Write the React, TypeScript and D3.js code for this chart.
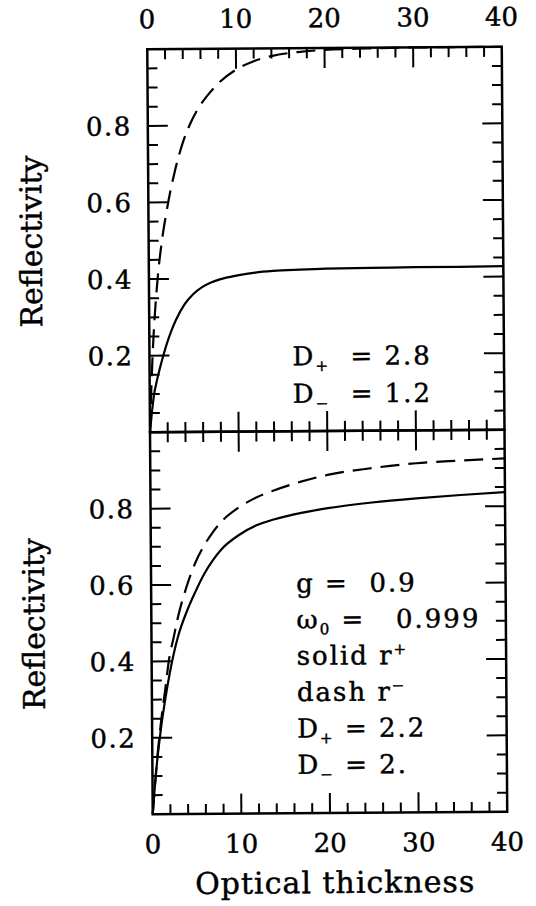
import * as d3 from "d3";

const WIDTH = 536;
const HEIGHT = 906;

// optical thickness sample points
const TAU = [0, 0.25, 0.5, 0.75, 1, 1.5, 2, 2.5, 3, 4, 5, 6, 7, 8, 10, 12, 14, 17, 20, 25, 30, 35, 40];

// upper panel (D+ = 2.8, D- = 1.2)
const TOP_R_PLUS = [0, 0.055, 0.1, 0.128, 0.152, 0.195, 0.233, 0.265, 0.292, 0.333, 0.36, 0.378, 0.39, 0.398, 0.408, 0.415, 0.419, 0.422, 0.424, 0.425, 0.426, 0.426, 0.427];
const TOP_R_MINUS = [0, 0.15, 0.26, 0.34, 0.405, 0.5, 0.57, 0.63, 0.68, 0.76, 0.815, 0.855, 0.885, 0.91, 0.945, 0.967, 0.98, 0.99, 0.995, 0.998, 1.0, 1.0, 1.0];

// lower panel (g = 0.9, w0 = 0.999, D+ = 2.2, D- = 2.)
const BOTTOM_R_PLUS = [0, 0.07, 0.13, 0.18, 0.225, 0.3, 0.365, 0.42, 0.465, 0.53, 0.582, 0.628, 0.664, 0.693, 0.73, 0.755, 0.77, 0.786, 0.798, 0.812, 0.822, 0.83, 0.837];
const BOTTOM_R_MINUS = [0, 0.07, 0.135, 0.19, 0.24, 0.325, 0.41, 0.462, 0.515, 0.595, 0.657, 0.702, 0.737, 0.765, 0.802, 0.828, 0.846, 0.868, 0.885, 0.902, 0.914, 0.92, 0.925];

const X_TICK_LABELS = [0, 10, 20, 30, 40];
const Y_TICK_LABELS = [0.2, 0.4, 0.6, 0.8];

// annotation lines: [main, subscript, superscript, rest]
const TOP_NOTES = [
  ["D", "+", "", "  = 2.8"],
  ["D", "\u2212", "", "  = 1.2"],
];
const BOTTOM_NOTES = [
  ["g", "", "", " =  0.9"],
  ["\u03c9", "0", "", " =   0.999"],
  ["solid r", "", "+", ""],
  ["dash r", "", "\u2212", ""],
  ["D", "+", "", " = 2.2"],
  ["D", "\u2212", "", " = 2."],
];

const FONT = "'DejaVu Serif', serif";
// scanned type is a little heavier than DejaVu regular
const INK = { stroke: "#000", strokeWidth: 0.45 };

function Note({ x, y, parts }) {
  const [main, sub, sup, rest] = parts;
  return (
    <text x={x} y={y} fontFamily={FONT} fontSize={26} letterSpacing={2} {...INK} style={{ whiteSpace: "pre" }}>
      <tspan>{main}</tspan>
      {sub && <tspan dy={6} fontSize={15}>{sub}</tspan>}
      {sup && <tspan dy={-10} fontSize={15}>{sup}</tspan>}
      {rest && <tspan dy={sub ? -6 : 0}>{rest}</tspan>}
    </text>
  );
}

export default function App() {
  const left = 150;
  const right = 504.5;
  const x = d3.scaleLinear().domain([0, 40]).range([left, right]);

  const panels = [
    { key: "top", top: 48, bottom: 431, plus: TOP_R_PLUS, minus: TOP_R_MINUS, notes: TOP_NOTES, nx: 293, ny: 365, nh: 37.5 },
    { key: "bottom", top: 431, bottom: 813, plus: BOTTOM_R_PLUS, minus: BOTTOM_R_MINUS, notes: BOTTOM_NOTES, nx: 295, ny: 592, nh: 36.3 },
  ];

  const xTicks = x.ticks(20);
  const MAJOR = 20;
  const MINOR = 10;

  return (
    <svg
      width={WIDTH}
      height={HEIGHT}
      viewBox={`0 0 ${WIDTH} ${HEIGHT}`}
      style={{ position: "absolute", left: 0, top: 0, background: "#fff" }}
    >
      <rect width={WIDTH} height={HEIGHT} fill="#fff" />
      {/* the scan is tilted very slightly */}
      <g transform="rotate(-0.41 328 431)">
        {panels.map((p) => {
          const y = d3.scaleLinear().domain([0, 1]).range([p.bottom, p.top]);
          const yTicks = y.ticks(20);
          const line = d3
            .line<number>()
            .x((_, i) => x(TAU[i]))
            .y((d) => y(d))
            .curve(d3.curveMonotoneX);
          const mid = (p.top + p.bottom) / 2;
          return (
            <g key={p.key}>
              {/* x ticks, top and bottom edges, pointing inward */}
              {xTicks.map((t) => {
                if (t === 0 || t === 40) return null;
                const len = t % 10 === 0 ? MAJOR : MINOR;
                return (
                  <g key={"x" + t} stroke="#000" strokeWidth={2}>
                    <line x1={x(t)} x2={x(t)} y1={p.top} y2={p.top + len} />
                    <line x1={x(t)} x2={x(t)} y1={p.bottom} y2={p.bottom - len} />
                  </g>
                );
              })}
              {/* y ticks, left and right edges */}
              {yTicks.map((t) => {
                if (t <= 0 || t >= 1) return null;
                const major = Math.abs(t * 5 - Math.round(t * 5)) < 1e-6;
                const len = major ? MAJOR : MINOR;
                return (
                  <g key={"y" + t} stroke="#000" strokeWidth={2}>
                    <line x1={left} x2={left + len} y1={y(t)} y2={y(t)} />
                    <line x1={right} x2={right - len} y1={y(t)} y2={y(t)} />
                  </g>
                );
              })}
              {Y_TICK_LABELS.map((t) => (
                <text
                  key={"yl" + t}
                  x={left - 16}
                  y={y(t)}
                  dy="0.36em"
                  textAnchor="end"
                  fontFamily={FONT}
                  fontSize={26}
                  letterSpacing={1.5}
                  {...INK}
                >
                  {t.toFixed(1)}
                </text>
              ))}
              <text
                transform={`translate(43,${mid}) rotate(-90)`}
                textAnchor="middle"
                fontFamily={FONT}
                fontSize={30}
                {...INK}
              >
                Reflectivity
              </text>

              <path d={line(p.plus) || ""} fill="none" stroke="#000" strokeWidth={2.2} />
              <path d={line(p.minus) || ""} fill="none" stroke="#000" strokeWidth={2.2} strokeDasharray="19 9" />

              {p.notes.map((n, i) => (
                <Note key={i} x={p.nx} y={p.ny + i * p.nh} parts={n} />
              ))}

              <rect
                x={left}
                y={p.top}
                width={right - left}
                height={p.bottom - p.top}
                fill="none"
                stroke="#000"
                strokeWidth={2.5}
              />
            </g>
          );
        })}

        {X_TICK_LABELS.map((t) => (
          <g key={"xl" + t}>
            <text x={x(t)} y={27} textAnchor="middle" fontFamily={FONT} fontSize={26} {...INK}>
              {t}
            </text>
            <text x={x(t)} y={852} textAnchor="middle" fontFamily={FONT} fontSize={26} {...INK}>
              {t}
            </text>
          </g>
        ))}
        <text x={332} y={893} textAnchor="middle" fontFamily={FONT} fontSize={30} letterSpacing={1} {...INK}>
          Optical thickness
        </text>
      </g>
    </svg>
  );
}
